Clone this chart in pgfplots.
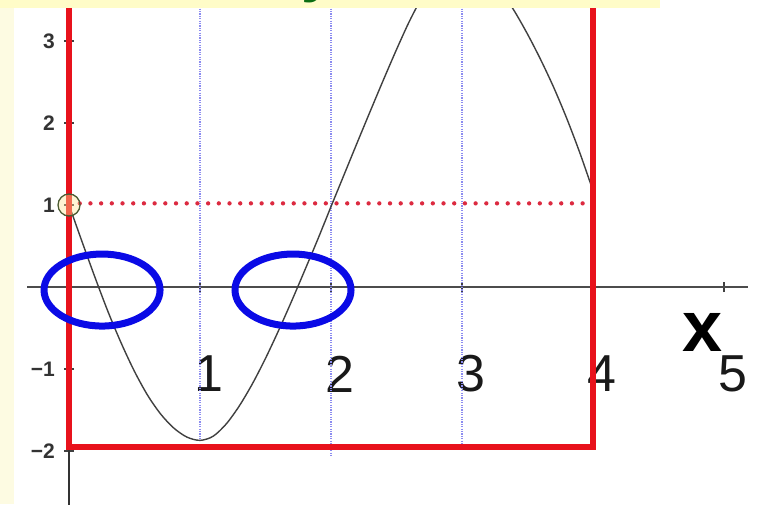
\documentclass[border=0pt]{standalone}
\usepackage{pgfplots}
\pgfplotsset{compat=1.18}
\usepackage{fontspec}
\setmainfont{Liberation Sans}
\definecolor{redframe}{HTML}{E8121C}
\definecolor{reddot}{HTML}{DC2A40}
\definecolor{bluedot}{HTML}{8C8CF0}
\definecolor{ellblue}{HTML}{0A0AE6}
\definecolor{ybg}{HTML}{FFFCC8}
\definecolor{ybgl}{HTML}{FDFBE2}
\definecolor{curvec}{HTML}{404040}
\definecolor{tgreen}{HTML}{0B6E12}
\definecolor{circo}{HTML}{4A5A32}
\begin{document}
\begin{tikzpicture}
\begin{axis}[
 scale only axis, width=758pt, height=504pt,
 xmin=-0.527, xmax=5.26, ymin=-2.646, ymax=3.5,
 axis lines=middle, axis line style={draw=none},
 axis background/.style={fill=white},
 xtick={1,2,3,4,5}, ytick={-2,-1,1,2,3},
 xticklabels={1,2,3,4,5},
 yticklabels={−2,−1,1,2,3},
 major tick length=10pt,
 tick style={black!75, line width=1.2pt},
 xticklabel style={anchor=center, yshift=-82pt, xshift=9pt, font=\fontsize{52}{56}\selectfont, text=black!90},
 yticklabel style={anchor=east, inner sep=0pt, xshift=-9pt, font=\bfseries\fontsize{21}{23}\selectfont, text=black!80},
 xlabel={x},
 every axis x label/.style={at={(axis cs:4.84,-0.55)}, anchor=center, font=\bfseries\fontsize{72}{76}\selectfont},
 clip=true,
]
% left pale strip
\fill[ybgl] (rel axis cs:0,0) rectangle (rel axis cs:0.018,1);
% axes
\addplot[black!70, line width=2pt] coordinates {(-0.32,0) (5.18,0)};
\addplot[black!80, line width=2pt] coordinates {(0,-2.7) (0,3.6)};
% blue dotted verticals
\addplot[bluedot, line width=2pt, dash pattern=on 1.3pt off 1.1pt] coordinates {(1,3.6) (1,-1.85)};
\addplot[bluedot, line width=2pt, dash pattern=on 1.3pt off 1.1pt] coordinates {(2,3.6) (2,-2.05)};
\addplot[bluedot, line width=2pt, dash pattern=on 1.3pt off 1.1pt] coordinates {(3,3.6) (3,-1.95)};
% red dotted horizontal
\addplot[reddot, line width=4.3pt, line cap=round, dash pattern=on 0pt off 10.7pt] coordinates {(0,1.02) (4,1.02)};
% curve
\addplot[curvec, line width=1.4pt, smooth] coordinates {
(0,1.0) (0.1,0.55) (0.2,0.11) (0.3,-0.31) (0.4,-0.69) (0.5,-1.03) (0.6,-1.32) (0.7,-1.55) (0.8,-1.72) (0.9,-1.83) (1.0,-1.87)
(1.1,-1.82) (1.2,-1.67) (1.3,-1.45) (1.4,-1.18) (1.5,-0.87) (1.6,-0.53) (1.7,-0.17) (1.8,0.205) (1.9,0.585) (2.0,0.98)
(2.1,1.37) (2.2,1.76) (2.3,2.145) (2.4,2.525) (2.5,2.895) (2.6,3.245) (2.7,3.545) (2.8,3.775) (2.9,3.925) (3.0,3.985)
(3.1,3.925) (3.2,3.795) (3.3,3.605) (3.4,3.365) (3.5,3.085) (3.6,2.775) (3.7,2.435) (3.8,2.055) (3.9,1.635) (4.0,1.175)};
% red frame
\addplot[redframe, line width=6pt, line join=miter] coordinates {(0,3.7) (0,-1.95) (4,-1.95) (4,3.7)};
% circle at start
\addplot[only marks, mark=*, mark size=11pt, mark options={draw=circo, line width=1.3pt, fill=yellow!60!orange!40, fill opacity=0.4}] coordinates {(0,1)};
% blue ellipses
\draw[ellblue, line width=7pt] (axis cs:0.252,-0.037) ellipse [x radius=58pt, y radius=36pt];
\draw[ellblue, line width=7pt] (axis cs:1.71,-0.037) ellipse [x radius=58pt, y radius=36pt];
% top strip
\fill[ybg] (rel axis cs:0,0.984) rectangle (rel axis cs:0.871,1.01);
\node[tgreen, font=\bfseries\fontsize{60}{60}\selectfont, anchor=base] at (axis cs:1.90,3.61) {y};
\end{axis}
\pgfresetboundingbox
\path[use as bounding box] (current axis.south west) rectangle (current axis.north east);
\end{tikzpicture}
\end{document}
